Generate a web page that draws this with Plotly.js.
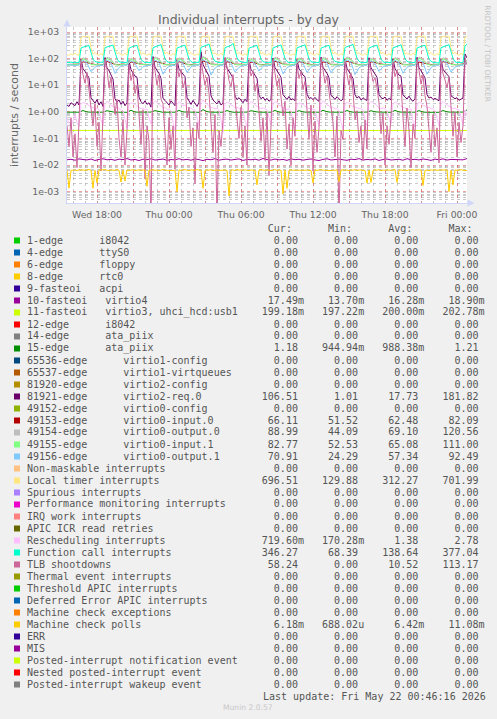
<!DOCTYPE html>
<html><head><meta charset="utf-8">
<script src="https://cdn.plot.ly/plotly-3.0.1.min.js"></script>
<style>html,body{margin:0;padding:0;background:#F0F0F0;}#chart{width:497px;height:719px;}</style>
</head><body><div id="chart"></div>
<script>
// ---------- legend table ----------
const legendNames = [
 '1-edge      i8042','4-edge      ttyS0','6-edge      floppy','8-edge      rtc0','9-fasteoi   acpi',
 '10-fasteoi   virtio4','11-fasteoi   virtio3, uhci_hcd:usb1','12-edge      i8042','14-edge      ata_piix','15-edge      ata_piix',
 '65536-edge      virtio1-config','65537-edge      virtio1-virtqueues','81920-edge      virtio2-config','81921-edge      virtio2-req.0','49152-edge      virtio0-config',
 '49153-edge      virtio0-input.0','49154-edge      virtio0-output.0','49155-edge      virtio0-input.1','49156-edge      virtio0-output.1','Non-maskable interrupts',
 'Local timer interrupts','Spurious interrupts','Performance monitoring interrupts','IRQ work interrupts','APIC ICR read retries',
 'Rescheduling interrupts','Function call interrupts','TLB shootdowns','Thermal event interrupts','Threshold APIC interrupts',
 'Deferred Error APIC interrupts','Machine check exceptions','Machine check polls','ERR','MIS',
 'Posted-interrupt notification event','Nested posted-interrupt event','Posted-interrupt wakeup event'];
const legendColors = [
 '#00CC00','#0066B3','#FF8000','#FFCC00','#330099','#990099','#CCFF00','#FF0000','#808080','#008F00',
 '#00487D','#B35A00','#B38F00','#6B006B','#8FB300','#B30000','#BEBEBE','#80FF80','#80C9FF','#FFC080',
 '#FFE680','#AA80FF','#EE00CC','#FF8080','#666600','#FFBFFF','#00FFCC','#CC6699','#999900','#00CC00',
 '#0066B3','#FF8000','#FFCC00','#330099','#990099','#CCFF00','#FF0000','#808080'];
const curVals = ['0.00','0.00','0.00','0.00','0.00','17.49m','199.18m','0.00','0.00','1.18',
 '0.00','0.00','0.00','106.51','0.00','66.11','88.99','82.77','70.91','0.00',
 '696.51','0.00','0.00','0.00','0.00','719.60m','346.27','58.24','0.00','0.00',
 '0.00','0.00','6.18m','0.00','0.00','0.00','0.00','0.00'];
const minVals = ['0.00','0.00','0.00','0.00','0.00','13.70m','197.22m','0.00','0.00','944.94m',
 '0.00','0.00','0.00','1.01','0.00','51.52','44.09','52.53','24.29','0.00',
 '129.88','0.00','0.00','0.00','0.00','170.28m','68.39','0.00','0.00','0.00',
 '0.00','0.00','688.02u','0.00','0.00','0.00','0.00','0.00'];
const avgVals = ['0.00','0.00','0.00','0.00','0.00','16.28m','200.00m','0.00','0.00','988.38m',
 '0.00','0.00','0.00','17.73','0.00','62.48','69.10','65.08','57.34','0.00',
 '312.27','0.00','0.00','0.00','0.00','1.38','138.64','10.52','0.00','0.00',
 '0.00','0.00','6.42m','0.00','0.00','0.00','0.00','0.00'];
const maxVals = ['0.00','0.00','0.00','0.00','0.00','18.90m','202.78m','0.00','0.00','1.21',
 '0.00','0.00','0.00','181.82','0.00','82.09','120.56','111.00','92.49','0.00',
 '701.99','0.00','0.00','0.00','0.00','2.78','377.04','113.17','0.00','0.00',
 '0.00','0.00','11.08m','0.00','0.00','0.00','0.00','0.00'];

// ---------- x tick labels ----------
const xTickVals = ['2026-05-20 18:00','2026-05-20 21:00','2026-05-21 00:00','2026-05-21 03:00','2026-05-21 06:00','2026-05-21 09:00','2026-05-21 12:00','2026-05-21 15:00','2026-05-21 18:00','2026-05-21 21:00','2026-05-22 00:00'];
const xTickText = ['Wed 18:00','','Thu 00:00','','Thu 06:00','','Thu 12:00','','Thu 18:00','','Fri 00:00'];
const yTickVals = [0.001,0.01,0.1,1,10,100,1000];
const yTickText = ['1e-03','1e-02','1e-01','1e+00','1e+01','1e+02','1e+03'];

// ---------- series, 10-minute samples from Wed 15:30 ----------
const localTimer = [140,132,150,135,160,138,132,
 620,680,690,695,685,250,145,172,140,133,155,131,
 650,690,700,695,680,230,150,168,138,136,160,134,
 640,685,695,690,690,260,142,165,142,132,150,135,
 630,690,698,692,684,240,148,175,139,134,158,132,
 645,688,701,694,682,255,146,170,141,131,152,136,
 635,684,696,690,688,235,150,166,137,135,162,133,
 650,692,699,693,680,250,144,173,140,133,154,131,
 640,687,694,691,686,245,147,169,138,136,157,134,
 625,683,697,695,684,260,149,171,142,132,151,135,
 648,690,700,689,681,238,145,167,139,134,160,132,
 638,686,695,692,687,252,148,174,141,131,155,136,
 642,689,698,694,683,243,146,168,137,135,159,133,
 630,685,696,690,685,256,150,172,140,133,153,131,
 647,691,701,693,682,240,144,166,142,136,161,134,
 636,687,697,691,688,250,147,170,138,132,156,135,
 644,690,699,695,684,246,149,173,141,134,158,133,
 640,696];
const functionCall = [72,70,74,71,73,70,72,
 250,270,285,300,310,175,95,78,72,70,74,71,
 260,280,290,305,320,180,100,76,73,71,72,70,
 245,275,288,298,315,170,92,79,71,73,70,72,
 255,278,292,310,335,185,98,77,72,69,73,71,
 250,272,286,302,318,172,94,78,70,72,71,73,
 265,285,300,320,350,190,105,80,73,71,70,72,
 258,282,295,315,377,200,110,82,74,72,71,70,
 248,270,284,300,312,176,96,77,72,70,73,71,
 252,276,290,306,325,182,99,78,71,72,70,69,
 256,279,293,308,328,178,97,76,73,71,72,70,
 246,271,287,299,314,174,93,79,72,70,71,73,
 262,284,298,316,340,188,102,80,72,71,70,72,
 250,274,289,303,320,179,96,77,71,73,72,70,
 254,277,291,307,330,183,100,78,73,70,71,72,
 249,273,288,301,316,177,95,79,72,71,70,68,
 257,281,294,311,333,186,101,77,71,72,73,70,
 300,346];
const virtio2Req = [1.8,1.6,2.2,1.9,1.7,2.4,1.8,
 95,42,33,26,19,3.4,2.6,2.1,2.9,1.8,2.4,1.6,
 110,45,35,24,17,3.1,2.3,2.8,1.9,2.5,1.7,2.2,
 85,38,30,22,20,3.6,2.4,2.0,2.6,1.9,2.2,1.5,
 120,48,36,28,18,3.2,2.7,2.2,1.8,2.6,2.0,1.7,
 90,40,32,25,21,3.5,2.5,1.9,2.7,2.1,1.6,2.3,
 182,60,42,30,22,4.0,2.8,2.3,2.0,2.6,1.8,2.1,
 100,44,34,27,19,3.9,2.9,3.4,2.6,2.2,3.0,2.4,
 88,39,31,23,18,4.2,3.1,3.6,2.7,3.2,2.5,2.9,
 105,46,35,26,20,4.4,3.5,2.9,3.8,2.8,3.1,2.6,
 92,41,33,24,21,4.6,3.2,3.4,2.9,3.5,2.8,2.5,
 115,47,36,28,19,4.1,3.6,2.9,3.7,3.1,2.6,3.0,
 96,43,32,25,18,4.3,3.3,3.8,2.8,3.4,2.9,2.7,
 108,45,34,27,20,4.5,3.4,3.1,3.6,2.7,3.2,2.8,
 98,42,33,24,22,4.2,3.7,3.0,3.9,2.9,2.5,3.1,
 112,46,35,26,19,4.4,3.3,3.6,2.9,3.2,2.8,2.6,
 94,40,31,25,21,4.0,3.5,3.1,3.4,2.7,3.0,3.3,
 150,106.5];
const tlbShootdowns = [0.3,0.05,0.6,0.02,0.15,0.008,0.4,
 80,25,12,30,6,1.5,0.3,2,0.05,0.4,0.006,0.8,
 95,40,8,20,4,0.8,3,0.1,0.02,0.5,0.01,0.2,
 60,15,30,5,10,0.5,0.06,1.2,0.003,0.3,0.08,0,
 100,35,10,25,3,2,0.2,0.01,0.6,0.04,0.3,0.007,
 70,20,40,8,15,0.6,1.5,0.05,0.25,0.002,0.4,0.1,
 85,30,10,20,5,0.4,0.03,0.8,0,0.2,0.05,0.5,
 113,45,15,9,25,3,0.5,0.1,1.5,0.02,0.3,0.01,
 75,22,35,6,12,1,0.08,0.6,0.015,0.9,0.004,0.3,
 90,28,9,18,4,0.7,2.5,0.04,0.35,0.01,0.6,0.12,
 65,18,32,7,14,0.9,0.1,1.8,0.006,0.45,0.03,0.25,
 105,38,12,22,5,1.2,0.4,0.02,0.7,0,0.2,0.09,
 78,26,10,28,6,0.5,1.1,0.07,0.3,0.015,0.5,0.04,
 88,33,14,19,8,2.2,0.15,0.9,0.01,0.3,0.06,0.7,
 72,21,36,7,11,0.6,0.05,1.4,0.2,0.008,0.35,0.1,
 98,36,11,24,4,1.6,0.3,0.03,0.8,0.05,0.25,0.012,
 82,27,16,8,20,0.9,0.12,1.0,0.02,0.4,0.07,0.3,
 90,58.24];
const rescheduling = [0.6,0.35,0.3,0.45,0.8,0.4,0.3,
 1.9,2.3,2.1,1.8,1.7,1.5,1.4,1.3,1.4,1.2,0.5,0.3,
 2.0,2.5,2.2,1.7,1.6,1.4,1.5,1.3,1.2,1.1,0.45,0.25,
 1.8,2.2,2.0,1.9,1.6,1.5,1.3,1.4,1.2,1.3,0.6,0.35,
 2.1,2.6,2.3,1.8,1.7,1.4,1.5,1.2,1.3,1.1,0.4,0.2,
 1.9,2.4,2.1,1.7,1.8,1.5,1.3,1.4,1.2,1.2,0.55,0.3,
 2.2,2.78,2.4,1.9,1.6,1.5,1.4,1.3,1.4,1.1,0.5,0.17,
 2.0,2.3,2.2,1.8,1.7,1.4,1.5,1.3,1.2,1.3,0.45,0.28,
 1.9,2.5,2.1,1.8,1.6,1.5,1.3,1.4,1.3,1.2,0.6,0.32,
 2.1,2.4,2.3,1.7,1.7,1.4,1.4,1.2,1.3,1.1,0.5,0.25,
 1.8,2.2,2.0,1.9,1.6,1.5,1.3,1.4,1.2,1.2,0.55,0.3,
 2.0,2.6,2.2,1.8,1.7,1.4,1.5,1.3,1.3,1.1,0.4,0.22,
 1.9,2.3,2.1,1.7,1.6,1.5,1.4,1.3,1.2,1.2,0.5,0.3,
 2.1,2.5,2.3,1.9,1.7,1.4,1.3,1.4,1.3,1.1,0.6,0.35,
 2.0,2.4,2.1,1.8,1.6,1.5,1.4,1.2,1.2,1.3,0.45,0.27,
 1.8,2.3,2.2,1.7,1.7,1.4,1.5,1.3,1.3,1.1,0.5,0.3,
 2.0,2.5,2.1,1.8,1.6,1.5,1.3,1.4,1.2,1.2,0.55,0.33,
 1.2,0.72];
const machineCheckPolls = [
 0.0064,0.00135,0.0063,0.0066,0.0065,0.0062,0.0067,0.0064,0.0066,0.0063,
 0.0065,0.0068,0.0064,0.00134,0.0063,0.0021,0.0065,0.0066,0.0063,0.0067,
 0.0064,0.0062,0.0066,0.0065,0.0063,0.0068,0.0064,0.0023,0.0065,0.0025,
 0.0066,0.0063,0.0064,0.0067,0.0062,0.0065,0.0066,0.0064,0.0063,0.0066,
 0.0016,0.0065,0.0064,0.0067,0.0063,0.0066,0.0062,0.0065,0.0068,0.0064,
 0.0063,0.0066,0.0065,0.0062,0.0064,0.001,0.0066,0.0063,0.0065,0.0067,
 0.0064,0.0062,0.0066,0.0065,0.0063,0.0068,0.0064,0.0065,0.00134,0.0063,
 0.0066,0.0064,0.0067,0.0062,0.0065,0.0066,0.0063,0.0064,0.0066,0.0065,
 0.0063,0.00069,0.0064,0.0066,0.0062,0.0067,0.0065,0.0063,0.0064,0.0066,
 0.0065,0.0062,0.0066,0.0064,0.0063,0.0018,0.0065,0.0067,0.0064,0.0063,
 0.0066,0.0064,0.0062,0.0065,0.0067,0.0063,0.0066,0.0064,0.00082,0.0065,
 0.00134,0.0063,0.0066,0.0064,0.0065,0.0062,0.0067,0.0064,0.0063,0.0066,
 0.0065,0.0064,0.0062,0.0021,0.0066,0.0063,0.0065,0.0067,0.0064,0.0063,
 0.0066,0.0064,0.0062,0.0065,0.0063,0.0067,0.0024,0.0064,0.0066,0.0063,
 0.0065,0.0062,0.0066,0.0064,0.0067,0.0063,0.0065,0.0066,0.0062,0.0064,
 0.0021,0.0065,0.0022,0.0063,0.0066,0.0064,0.0067,0.0062,0.0065,0.0063,
 0.0066,0.0064,0.0063,0.0065,0.0068,0.0022,0.0064,0.0066,0.0063,0.0065,
 0.0062,0.0066,0.0064,0.0067,0.0063,0.0065,0.0064,0.0066,0.0017,0.0063,
 0.0065,0.0062,0.0066,0.0064,0.0067,0.0063,0.0065,0.0064,0.0066,0.0062,
 0.0065,0.001,0.0064,0.0018,0.0066,0.0063,0.0065,0.0067,0.0064,0.0063,
 0.0062];

// ---------- series, 20-minute samples from Wed 15:30 ----------
const edge15 = [0.97,0.96,0.98,0.97,
 1.12,0.99,0.97,0.96,0.98,0.97, 1.10,1.00,0.96,0.97,0.98,0.96, 1.14,0.98,0.97,0.96,0.97,0.98,
 1.11,1.01,0.96,0.97,0.96,0.97, 1.13,0.99,0.98,0.96,0.97,0.96, 1.21,1.02,0.97,0.97,0.98,0.97,
 1.12,0.99,0.96,0.96,0.97,0.98, 1.10,1.00,0.97,0.97,0.96,0.97, 1.13,0.98,0.96,0.98,0.97,0.96,
 1.11,0.99,0.97,0.96,0.98,0.97, 1.14,1.01,0.97,0.97,0.96,0.97, 1.12,0.99,0.96,0.96,0.97,0.98,
 1.10,1.00,0.98,0.97,0.97,0.96, 1.13,0.99,0.97,0.96,0.98,0.97, 1.11,0.98,0.96,0.97,0.97,0.96,
 1.12,1.00,0.97,0.96,0.97,0.98, 1.18];
const fasteoi11 = [
 0.200,0.199,0.201,0.200,0.198,0.200,0.201,0.199,0.200,0.202,
 0.200,0.199,0.200,0.201,0.199,0.200,0.198,0.200,0.201,0.200,
 0.199,0.200,0.202,0.200,0.199,0.201,0.200,0.199,0.200,0.200,
 0.201,0.199,0.200,0.198,0.200,0.201,0.200,0.199,0.202,0.200,
 0.199,0.200,0.201,0.200,0.199,0.200,0.201,0.198,0.200,0.200,
 0.201,0.200,0.199,0.200,0.202,0.199,0.200,0.201,0.200,0.199,
 0.200,0.201,0.199,0.200,0.198,0.200,0.201,0.200,0.199,0.202,
 0.200,0.199,0.200,0.201,0.200,0.199,0.200,0.198,0.201,0.200,
 0.199,0.200,0.201,0.200,0.202,0.199,0.200,0.201,0.199,0.200,
 0.200,0.201,0.199,0.200,0.198,0.200,0.201,0.200,0.199,0.200,
 0.199];
const fasteoi10 = [
 0.0158,0.0165,0.0152,0.0170,0.0161,0.0156,0.0168,0.0149,0.0163,0.0172,
 0.0157,0.0164,0.0151,0.0167,0.0160,0.0175,0.0155,0.0162,0.0148,0.0166,
 0.0159,0.0171,0.0154,0.0163,0.0168,0.0150,0.0161,0.0157,0.0173,0.0156,
 0.0164,0.0152,0.0169,0.0160,0.0147,0.0165,0.0158,0.0174,0.0153,0.0162,
 0.0167,0.0155,0.0161,0.0170,0.0149,0.0163,0.0158,0.0166,0.0152,0.0176,
 0.0160,0.0154,0.0168,0.0157,0.0163,0.0150,0.0171,0.0159,0.0165,0.0153,
 0.0162,0.0169,0.0156,0.0148,0.0164,0.0172,0.0155,0.0161,0.0167,0.0158,
 0.0151,0.0166,0.0160,0.0174,0.0154,0.0163,0.0157,0.0170,0.0149,0.0162,
 0.0168,0.0155,0.0161,0.0165,0.0152,0.0173,0.0159,0.0164,0.0156,0.0169,
 0.0161,0.0150,0.0167,0.0158,0.0171,0.0154,0.0163,0.0160,0.0166,0.0157,
 0.0175];
const virtio0Input0 = [60,61,59,62,
 76,70,62,60,61,59, 78,71,61,60,62,60, 75,69,63,61,60,59, 80,72,62,59,61,60,
 77,70,61,60,62,58, 82,73,63,61,60,59, 76,71,62,60,61,60, 74,69,61,59,62,60,
 79,72,63,61,60,59, 77,70,62,60,61,58, 75,71,61,60,62,60, 80,72,63,59,61,59,
 76,70,62,61,60,60, 78,71,61,60,62,59, 74,69,63,60,61,60, 77,70,62,59,60,61,
 66];
const virtio0Output0 = [58,60,57,61,
 108,92,62,58,60,57, 112,95,60,57,61,58, 104,90,63,59,58,60, 115,98,61,58,60,57,
 106,91,62,57,59,58, 120,100,64,59,61,58, 110,94,61,58,60,59, 103,89,60,57,59,58,
 113,96,63,59,60,57, 107,92,62,58,61,58, 111,95,61,57,59,60, 116,97,63,58,60,58,
 105,90,62,59,58,57, 109,93,61,58,60,59, 114,96,63,57,59,58, 108,92,62,58,61,58,
 89];
const virtio0Input1 = [59,57,60,58,
 98,82,60,58,59,57, 102,85,59,57,60,58, 95,80,61,59,58,57, 105,88,60,58,59,57,
 97,83,59,57,60,58, 111,90,62,58,59,57, 100,84,60,59,58,58, 94,79,59,57,60,57,
 103,86,61,58,59,58, 99,83,60,57,58,57, 101,85,59,58,60,58, 106,87,61,57,59,57,
 96,81,60,59,58,58, 100,84,59,58,60,57, 104,86,61,57,59,58, 98,83,60,58,58,57,
 83];
const virtio0Output1 = [56,58,55,57,
 86,68,32,48,56,55, 90,70,28,46,57,56, 84,66,35,50,55,57, 88,72,26,45,56,55,
 85,67,30,49,57,56, 92,74,24,44,55,56, 87,69,31,47,56,57, 83,65,34,51,57,55,
 89,71,27,46,55,56, 86,68,30,48,56,57, 88,70,29,47,57,55, 91,73,25,45,56,56,
 84,66,33,50,55,57, 87,69,28,47,56,55, 90,72,26,46,57,56, 86,68,31,48,55,57,
 71];

// ---------- build ----------
const T0 = Date.UTC(2026,4,20,15,30);
function fmt(ms){const d=new Date(ms);const p=n=>String(n).padStart(2,'0');
 return d.getUTCFullYear()+'-'+p(d.getUTCMonth()+1)+'-'+p(d.getUTCDate())+' '+p(d.getUTCHours())+':'+p(d.getUTCMinutes());}
const t10 = Array.from({length:201},(_,i)=>fmt(T0+i*600000));
const t20 = Array.from({length:101},(_,i)=>fmt(T0+i*1200000));
const LOGFLOOR = 1e-4; // zero readings drawn at the bottom edge, as rrdtool does
const series = [
 [t20, fasteoi10, 5],[t20, fasteoi11, 6],[t20, edge15, 9],[t10, virtio2Req, 13],
 [t20, virtio0Input0, 15],[t20, virtio0Output0, 16],[t20, virtio0Input1, 17],[t20, virtio0Output1, 18],
 [t10, localTimer, 20],[t10, rescheduling, 25],[t10, functionCall, 26],[t10, tlbShootdowns, 27],
 [t10, machineCheckPolls, 32]];
const traces = series.map(([x,y,ci])=>({x:x, y:y.map(v=>v>0?v:LOGFLOOR), type:'scatter', mode:'lines',
 line:{color:legendColors[ci], width:1}, hoverinfo:'skip', showlegend:false, name:legendNames[ci]}));

const L=67, R=467, TOP=27, BOT=203, W=497, H=719;
const px2x = px => (px-L)/(R-L);
const px2y = py => (BOT-py)/(BOT-TOP);

const xMinor=[]; for(let h=16; h<=48; h++){ xMinor.push(fmt(Date.UTC(2026,4,20,0,0)+h*3600000)); }
const yMinor=[]; for(let d=-4; d<=3; d++){ for(let m=2;m<=9;m++){ yMinor.push(m*Math.pow(10,d)); } }

const annotations=[], shapes=[];
const mono = {family:'DejaVu Sans Mono, monospace', size:10, color:'#555'};
function padTo(s, end, v){ while(s.length + v.length < end) s += ' '; return s + v; }
function nb(s){ return s.replace(/ /g,'\u00a0'); }
let hdr=''; hdr=padTo(hdr,44,'Cur:'); hdr=padTo(hdr,54,'Min:'); hdr=padTo(hdr,64,'Avg:'); hdr=padTo(hdr,74,'Max:');
annotations.push({xref:'paper',yref:'paper',x:px2x(26),y:px2y(228),xanchor:'left',yanchor:'middle',showarrow:false,borderpad:0,text:nb(hdr),font:mono});
legendNames.forEach((nm,i)=>{
 const yc = 240 + 12*i;
 let s = nm;
 [curVals[i],minVals[i],avgVals[i],maxVals[i]].forEach((v,k)=>{
   const vv = /[a-z]$/i.test(v) ? v : v+' ';
   s = padTo(s,[46,56,66,76][k],vv);
 });
 annotations.push({xref:'paper',yref:'paper',x:px2x(26),y:px2y(yc),xanchor:'left',yanchor:'middle',showarrow:false,borderpad:0,text:nb(s),font:mono});
 shapes.push({type:'rect',xref:'paper',yref:'paper',x0:px2x(14),x1:px2x(20),y0:px2y(yc-2.5),y1:px2y(yc+3.5),fillcolor:legendColors[i],line:{width:0}});
});
annotations.push({xref:'paper',yref:'paper',x:px2x(262),y:px2y(696),xanchor:'left',yanchor:'middle',showarrow:false,borderpad:0,text:nb('Last update: Fri May 22 00:46:16 2026'),font:mono});
annotations.push({xref:'paper',yref:'paper',x:px2x(248),y:px2y(707.7),xanchor:'center',yanchor:'middle',showarrow:false,borderpad:0,text:'Munin 2.0.57',font:{family:'DejaVu Sans',size:7.6,color:'#c8c8c8'}});
annotations.push({xref:'paper',yref:'paper',x:px2x(488),y:px2y(53.3),xanchor:'center',yanchor:'middle',showarrow:false,borderpad:0,textangle:90,text:'RRDTOOL / TOBI OETIKER',font:{family:'DejaVu Sans',size:7.5,color:'#c4c4c4'}});
// axis arrows
shapes.push({type:'path',xref:'paper',yref:'paper',path:`M ${px2x(63.5)},${px2y(26.5)} L ${px2x(70.5)},${px2y(26.5)} L ${px2x(67)},${px2y(19.5)} Z`,fillcolor:'#CFD6F8',line:{width:0}});
shapes.push({type:'path',xref:'paper',yref:'paper',path:`M ${px2x(467.5)},${px2y(199.5)} L ${px2x(467.5)},${px2y(206.5)} L ${px2x(474.5)},${px2y(203)} Z`,fillcolor:'#CFD6F8',line:{width:0}});

const tickFont = {family:'DejaVu Sans', size:9.3, color:'#666'};
const layout = {
 width:W, height:H, paper_bgcolor:'#F0F0F0', plot_bgcolor:'#FFFFFF', showlegend:false,
 margin:{l:L, r:W-R, t:TOP, b:H-BOT, pad:0},
 title:{text:'Individual interrupts - by day', font:{family:'DejaVu Sans', size:12.5, color:'#666'},
   x:0.5, xref:'container', xanchor:'center', y:1-19.3/H, yref:'container', yanchor:'middle'},
 xaxis:{type:'date', range:['2026-05-20 15:30','2026-05-22 00:50'], tickmode:'array', tickvals:xTickVals, ticktext:xTickText,
   showgrid:true, gridcolor:'rgba(230,90,90,0.55)', griddash:'dot', gridwidth:1,
   minor:{tickmode:'array', tickvals:xMinor, showgrid:true, gridcolor:'rgba(150,150,150,0.5)', griddash:'dot', gridwidth:1, ticks:''},
   showline:true, linecolor:'#CFD6F8', linewidth:1, ticks:'outside', ticklen:3, tickcolor:'rgba(0,0,0,0)',
   tickfont:tickFont, zeroline:false, fixedrange:true},
 yaxis:{type:'log', range:[-3.426,3.188], tickmode:'array', tickvals:yTickVals, ticktext:yTickText,
   showgrid:true, gridcolor:'rgba(230,90,90,0.55)', griddash:'dot', gridwidth:1,
   minor:{tickmode:'array', tickvals:yMinor, showgrid:true, gridcolor:'rgba(150,150,150,0.5)', griddash:'dot', gridwidth:1, ticks:''},
   showline:true, linecolor:'#CFD6F8', linewidth:1, ticks:'outside', ticklen:5, tickcolor:'rgba(0,0,0,0)',
   tickfont:tickFont, zeroline:false, fixedrange:true,
   title:{text:'interrupts / second', font:{family:'DejaVu Sans', size:11, color:'#666'}, standoff:7}},
 annotations:annotations, shapes:shapes
};
Plotly.newPlot('chart', traces, layout, {staticPlot:true, displayModeBar:false});
</script>
</body></html>
